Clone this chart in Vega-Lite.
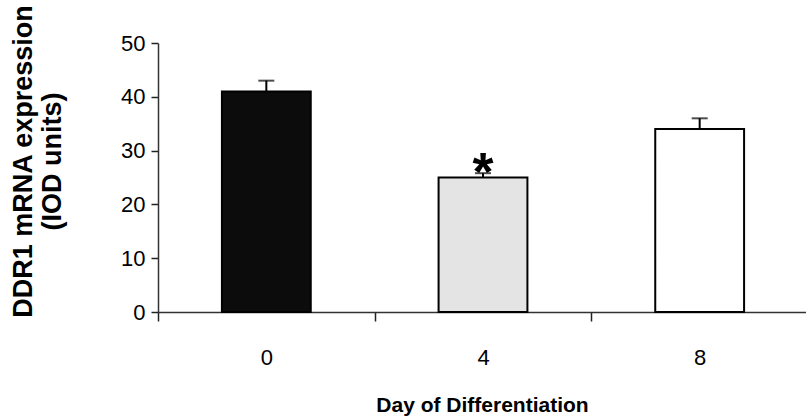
{
  "$schema": "https://vega.github.io/schema/vega-lite/v6.json",
  "autosize": "none",
  "width": 650,
  "height": 269,
  "padding": {"left": 158, "top": 43, "right": 0, "bottom": 108},
  "background": "white",
  "config": {"view": {"stroke": null}, "font": "Liberation Sans"},
  "data": {"values": [
    {"day": "0", "mean": 41, "hi": 43, "sig": ""},
    {"day": "4", "mean": 25, "hi": 25.8, "sig": "*"},
    {"day": "8", "mean": 34, "hi": 36, "sig": ""}
  ]},
  "encoding": {
    "x": {
      "field": "day", "type": "nominal", "sort": ["0", "4", "8"],
      "scale": {"paddingInner": 0, "paddingOuter": 0},
      "axis": {
        "title": "Day of Differentiation", "titleFont": "Liberation Sans", "titleFontSize": 21, "titleFontWeight": "bold",
        "titleColor": "#000", "titleX": 324, "titleY": 93, "titleBaseline": "middle",
        "labelAngle": 0, "labelFontSize": 22, "labelColor": "#000", "labelPadding": 26,
        "tickBand": "extent", "tickSize": 9, "tickColor": "#222", "tickWidth": 1.5,
        "domainColor": "#333", "domainWidth": 1.5
      }
    }
  },
  "layer": [
    {
      "mark": {"type": "bar", "width": {"band": 0.41}, "stroke": "#000", "strokeWidth": 2},
      "encoding": {
        "y": {
          "field": "mean", "type": "quantitative",
          "scale": {"domain": [0, 50], "nice": false},
          "axis": {
            "values": [0, 10, 20, 30, 40, 50],
            "title": ["DDR1 mRNA expression", "(IOD units)"],
            "titleFont": "Liberation Sans", "titleFontSize": 27, "titleFontWeight": "bold", "titleColor": "#000",
            "titleX": -135, "titleY": 118, "titleAngle": -90, "titleAlign": "center", "titleBaseline": "middle", "titleLineHeight": 29,
            "labelFontSize": 22, "labelColor": "#000", "labelPadding": 6,
            "tickSize": 7, "tickColor": "#222", "tickWidth": 1.5,
            "domainColor": "#333", "domainWidth": 1.5, "grid": false
          }
        },
        "fill": {
          "field": "day", "type": "nominal",
          "scale": {"domain": ["0", "4", "8"], "range": ["#0c0c0c", "#e4e4e4", "#ffffff"]},
          "legend": null
        }
      }
    },
    {
      "mark": {"type": "rule", "color": "#000", "strokeWidth": 2},
      "encoding": {
        "y": {"field": "mean", "type": "quantitative"},
        "y2": {"field": "hi"}
      }
    },
    {
      "mark": {"type": "tick", "color": "#000", "size": 16, "thickness": 2},
      "encoding": {
        "y": {"field": "hi", "type": "quantitative"}
      }
    },
    {
      "mark": {"type": "text", "fontSize": 54, "fontWeight": "bold", "font": "Liberation Sans", "baseline": "middle", "dy": 1, "color": "#000"},
      "encoding": {
        "y": {"field": "hi", "type": "quantitative"},
        "text": {"field": "sig"}
      }
    }
  ]
}
